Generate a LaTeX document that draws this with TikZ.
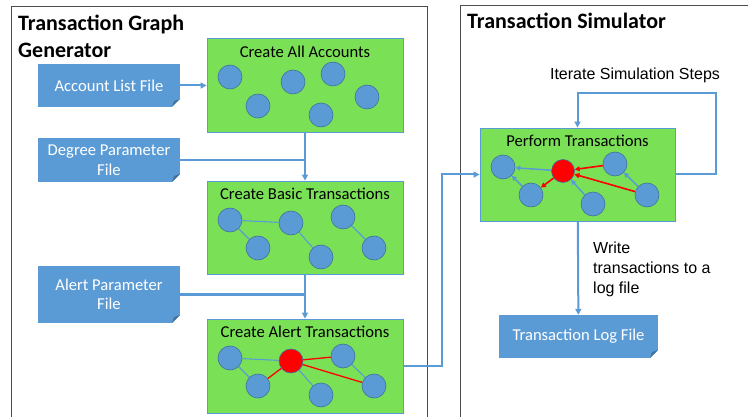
\documentclass[tikz,border=0pt]{standalone}
\usepackage{fontspec}
\setmainfont{Carlito}
\newfontfamily\arialfont{Liberation Sans}
\usetikzlibrary{arrows.meta}

\definecolor{figG}{HTML}{7AE157}
\definecolor{figB}{HTML}{5B9BD5}
\definecolor{figD}{HTML}{41719C}
\definecolor{figR}{HTML}{FF0000}

\begin{document}
\begin{tikzpicture}[x=1pt,y=-1pt,>={Triangle[length=6pt,width=6pt]},
  frame/.style={draw=black!70,line width=0.9pt},
  heading/.style={font=\bfseries\fontsize{22}{27}\selectfont,align=left,inner sep=0pt},
  stage/.style={draw=figB,fill=figG,line width=0.8pt,minimum width=196pt,minimum height=94pt},
  stagetitle/.style={font=\fontsize{16.6}{19}\selectfont,inner sep=0pt},
  infile/.style={fill=figB,text=white,align=center,minimum width=142pt,
    font=\fontsize{16.6}{19.5}\selectfont,
    path picture={
      \fill[white] ([xshift=-8pt]path picture bounding box.south east)
        -- ([yshift=8pt]path picture bounding box.south east)
        -- (path picture bounding box.south east) -- cycle;
      \fill[figD] ([xshift=-8pt]path picture bounding box.south east)
        -- ([yshift=8pt]path picture bounding box.south east)
        -- ([xshift=-6pt,yshift=6pt]path picture bounding box.south east) -- cycle;}},
  acct/.style={circle,draw=figD,fill=figB,line width=0.6pt,minimum size=24pt,inner sep=0pt},
  hub/.style={acct,fill=figR},
  link/.style={figB,line width=1.1pt},
  redlink/.style={figR,line width=1.3pt},
  flow/.style={figB,line width=2pt},
  note/.style={font=\arialfont\fontsize{16}{20}\selectfont,align=left}]
\useasboundingbox (0,0) rectangle (748,417);

\draw[frame] (11,430) |- (427,6) -- (427,430);
\draw[frame] (460,430) |- (760,5);
\node[heading,anchor=north west] (gentitle) at (18,15) {Transaction Graph\\Generator};
\node[heading,anchor=north west] (simtitle) at (467,13) {Transaction Simulator};

\node[infile,minimum height=43pt] (acclist) at (109,85.5) {Account List File};
\node[infile,minimum height=44pt] (degfile) at (109,160) {Degree Parameter\\File};
\node[infile,minimum height=57pt] (alertfile) at (109,294.5) {Alert Parameter\\File};
\node[infile,minimum width=159pt,minimum height=43pt] (logfile) at (578.5,336.5) {Transaction Log File};

\node[stage] (box1) at (305,85) {};
\node[stage,minimum height=93pt] (box2) at (305,227.5) {};
\node[stage] (box3) at (305,366) {};
\node[stage,minimum width=195pt,minimum height=93pt] (box4) at (577.5,174.5) {};
\node[stagetitle] (title1) at (305,52) {Create All Accounts};
\node[stagetitle] (title2) at (305,194) {Create Basic Transactions};
\node[stagetitle] (title3) at (305,332) {Create Alert Transactions};
\node[stagetitle] (title4) at (577.5,141) {Perform Transactions};

\node[acct] (a1) at (230,77) {};
\node[acct] (a2) at (258,106) {};
\node[acct] (a3) at (293,82) {};
\node[acct] (a4) at (333,74) {};
\node[acct] (a5) at (321,115) {};
\node[acct] (a6) at (367,97) {};

\node[acct] (b1) at (230,220) {};
\node[acct] (b2) at (258,248) {};
\node[acct] (b3) at (291,223) {};
\node[acct] (b4) at (321,257) {};
\node[acct] (b5) at (343,217) {};
\node[acct] (b6) at (374,248) {};
\draw[link] (b1) -- (b3);
\draw[link] (b1) -- (b2);
\draw[link] (b3) -- (b4);
\draw[link] (b5) -- (b6);

\node[acct] (c1) at (230,358) {};
\node[acct] (c2) at (258,386) {};
\node[hub] (c3) at (291,361) {};
\node[acct] (c4) at (321,395) {};
\node[acct] (c5) at (343,356) {};
\node[acct] (c6) at (374,386) {};
\draw[link] (c1) -- (c3);
\draw[link] (c1) -- (c2);
\draw[link] (c3) -- (c4);
\draw[link] (c5) -- (c6);
\draw[redlink] (c3) -- (c2);
\draw[redlink] (c3) -- (c5);
\draw[redlink] (c3) -- (c6);

\node[acct] (p1) at (503,167) {};
\node[acct] (p2) at (531,195) {};
\node[hub,minimum size=23pt] (p3) at (563,171) {};
\node[acct] (p4) at (593,204) {};
\node[acct] (p5) at (615,164) {};
\node[acct] (p6) at (647,195) {};
\draw[link,line width=1.5pt,-{Triangle[length=5pt,width=5pt]}] (p3) -- (p1);
\draw[link,line width=1.5pt,-{Triangle[length=5pt,width=5pt]}] (p2) -- (p1);
\draw[link,line width=1.5pt,-{Triangle[length=5pt,width=5pt]}] (p4) -- (p3);
\draw[link,line width=1.5pt,-{Triangle[length=5pt,width=5pt]}] (p6) -- (p5);
\draw[redlink,line width=1.6pt,-{Triangle[length=5pt,width=5pt]}] (p5) -- (p3);
\draw[redlink,line width=1.6pt,-{Triangle[length=5pt,width=5pt]}] (p6) -- (p3);
\draw[redlink,line width=1.6pt,-{Triangle[length=5pt,width=5pt]}] (p3) -- (p2);

\draw[flow,->] (acclist.east) -- (acclist.east -| box1.west);
\draw[flow] (degfile.east) -- (degfile.east -| box1.south);
\draw[flow,->] (box1) -- (box2);
\draw[flow] (alertfile.east) -- (alertfile.east -| box2.south);
\draw[flow,->] (box2) -- (box3);
\coordinate (hop) at (442,366);
\draw[flow,->] (box3.east) -- (hop) |- (box4.west);
\coordinate (loopcorner) at (716,93);
\draw[flow,->] (box4.east) -| (loopcorner) -| (box4.north);
\draw[flow,->] (box4) -- (logfile);

\node[note] (iterlabel) at (635,75) {Iterate Simulation Steps};
\node[note,anchor=north west,inner sep=0pt] (writelabel) at (593,242) {Write\\transactions to a\\log file};
\end{tikzpicture}
\end{document}
